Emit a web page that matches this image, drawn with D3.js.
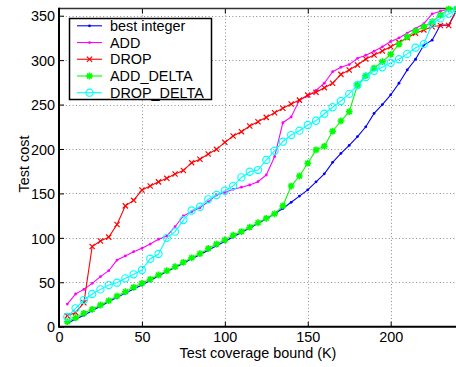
<!DOCTYPE html>
<html>
<head>
<meta charset="utf-8">
<script src="https://cdn.jsdelivr.net/npm/d3@7"></script>
<style>
	html, body { margin: 0; padding: 0; background: #fff; }
	svg { display: block; }
	text { font-family: "Liberation Sans", Arial, sans-serif; fill: #000; }
</style>
</head>
<body>
<svg id="chart"></svg>
<script>
'use strict';

// coverage bounds (K)
var bounds = [5, 10, 15, 20, 25, 30, 35, 40, 45, 50, 55, 60, 65, 70, 75, 80, 85, 90, 95, 100,
	105, 110, 115, 120, 125, 130, 135, 140, 145, 150, 155, 160, 165, 170, 175, 180, 185, 190, 195, 200,
	205, 210, 215, 220, 225, 230, 235, 240];

var bestInteger = [4, 8.5, 13, 18, 23, 28, 33, 37.5, 42.5, 47, 52, 57, 62, 66.5, 71.5, 76.5, 81, 86, 91, 96,
	101, 106, 111, 116, 121.5, 127, 133, 140, 147, 154, 163, 172, 185, 195, 204, 214, 225, 240, 250, 261,
	274, 289, 301, 317, 322.5, 339.5, 339.5, 357];

var addCost = [25.5, 36.8, 42, 48.8, 56.3, 63, 75, 79.6, 84.4, 88.2, 93, 98.4, 102, 112.5, 124.6, 129.5, 134, 140.5, 148.2, 151,
	154.6, 157, 159.5, 163.2, 170.7, 191.3, 229.6, 236, 255, 259.5, 266, 274, 287, 292, 295, 302, 305.5, 310, 315, 321,
	325, 330.5, 335.5, 341, 352, 355, 357.5, 358];

var dropCost = [12.2, 16, 27, 90.3, 96.4, 100.8, 115, 136, 142.2, 153.8, 158.3, 163, 167, 171.8, 175.8, 184.6, 188.4, 194.4, 199.6, 207.5,
	214.6, 219.5, 225.9, 230.7, 235.6, 240.8, 245.8, 250.6, 255, 260.7, 263.8, 269, 274, 284, 288.9, 294.5, 301.3, 305.8, 310.3, 315.1,
	320, 325.3, 330.2, 334, 337.6, 339, 339, 357];

var addDeltaCost = [5.6, 10.1, 15.1, 19.6, 24.4, 29.3, 34.5, 39.4, 44.3, 48.8, 53.3, 58.2, 63, 67.5, 72.5, 77.5, 82.2, 88, 93, 97.6,
	103, 107, 112, 117, 122, 127, 136, 158.3, 169.6, 184, 199, 203, 220, 231.5, 242, 272, 282.5, 291, 298.3, 306.5,
	318, 326.3, 332.7, 337.6, 343.2, 350.7, 357.5, 358];

var dropDeltaCost = [11, 20.7, 30, 36.8, 42, 46.9, 49.5, 54.4, 59, 63.8, 76.5, 81.8, 100, 107, 120, 130.8, 135, 143.4, 148.2, 153,
	158.3, 168, 174.4, 176.3, 187.6, 198, 208.2, 215.7, 220.6, 227, 231.8, 239.7, 247, 254, 262, 272, 281, 288, 292, 297,
	301, 307, 314, 318, 341, 347, 352, 357];

var seriesNames = ['best integer', 'ADD', 'DROP', 'ADD_DELTA', 'DROP_DELTA'];
var seriesValues = [bestInteger, addCost, dropCost, addDeltaCost, dropDeltaCost];

var xTicks = [0, 50, 100, 150, 200];
var yTicks = [0, 50, 100, 150, 200, 250, 300, 350];

var WIDTH = 456,
	HEIGHT = 367;

var plot = { left: 59, right: 457, top: 8.6, bottom: 326.7 };

var colors = ['#0000ff', '#ff00ff', '#ff0000', '#00ff00', '#00ffff'];
var markers = ['dot', 'dot', 'x', 'star', 'circle'];

var svg = d3.select('#chart')
	.attr('width', WIDTH)
	.attr('height', HEIGHT);

svg.append('rect')
	.attr('width', WIDTH)
	.attr('height', HEIGHT)
	.style('fill', '#fff');

var x = d3.scaleLinear()
	.domain([0, 240])
	.range([plot.left, plot.right]);

var y = d3.scaleLinear()
	.domain([0, 358])
	.range([plot.bottom, plot.top]);

// dotted grid
var grid = svg.append('g').attr('class', 'grid');

grid.selectAll('.gx')
	.data(xTicks.slice(1))
	.enter()
	.append('line')
	.attr('x1', function (d) { return Math.round(x(d)) + 0.5; })
	.attr('x2', function (d) { return Math.round(x(d)) + 0.5; })
	.attr('y1', plot.top)
	.attr('y2', plot.bottom)
	.style('stroke', '#8a8a8a')
	.style('stroke-dasharray', '1,2.4');

grid.selectAll('.gy')
	.data(yTicks.slice(1))
	.enter()
	.append('line')
	.attr('y1', function (d) { return Math.round(y(d)) + 0.5; })
	.attr('y2', function (d) { return Math.round(y(d)) + 0.5; })
	.attr('x1', plot.left)
	.attr('x2', plot.right)
	.style('stroke', '#8a8a8a')
	.style('stroke-dasharray', '1,2.4');

// axes: left + bottom with inward ticks, plus the box
var axisBottom = d3.axisBottom(x)
	.tickValues(xTicks)
	.tickSizeInner(-5)
	.tickSizeOuter(0)
	.tickPadding(5);

var axisLeft = d3.axisLeft(y)
	.tickValues(yTicks)
	.tickSizeInner(-5)
	.tickSizeOuter(0)
	.tickPadding(4);

var axisTop = d3.axisTop(x)
	.tickValues(xTicks)
	.tickSizeInner(-5)
	.tickSizeOuter(0)
	.tickFormat('');

var gb = svg.append('g')
	.attr('transform', 'translate(0,' + plot.bottom + ')')
	.call(axisBottom);

var gl = svg.append('g')
	.attr('transform', 'translate(' + plot.left + ',0)')
	.call(axisLeft);

var gt = svg.append('g')
	.attr('transform', 'translate(0,' + plot.top + ')')
	.call(axisTop);

[gb, gl, gt].forEach(function (g) {
	g.select('.domain').remove();
	g.selectAll('.tick line').style('stroke', '#000').style('stroke-width', 1);
	g.selectAll('.tick text')
		.style('font-family', '"Liberation Sans", Arial, sans-serif')
		.style('font-size', '14.4px')
		.style('fill', '#000');
});

gl.selectAll('.tick text').attr('dy', '0.36em');

svg.append('line')
	.attr('x1', plot.left).attr('x2', plot.right)
	.attr('y1', plot.top).attr('y2', plot.top)
	.style('stroke', '#333')
	.style('stroke-width', 1.5);

svg.append('line')
	.attr('x1', plot.left).attr('x2', plot.right)
	.attr('y1', plot.bottom).attr('y2', plot.bottom)
	.style('stroke', '#000')
	.style('stroke-width', 2);

svg.append('line')
	.attr('x1', plot.left).attr('x2', plot.left)
	.attr('y1', plot.top - 0.75).attr('y2', plot.bottom + 1)
	.style('stroke', '#000')
	.style('stroke-width', 2);

// axis titles
svg.append('text')
	.attr('x', (plot.left + plot.right) / 2)
	.attr('y', 358)
	.style('font-size', '14.4px')
	.style('text-anchor', 'middle')
	.text('Test coverage bound (K)');

svg.append('text')
	.attr('transform', 'translate(29,164) rotate(-90)')
	.style('font-size', '14.4px')
	.style('text-anchor', 'middle')
	.text('Test cost');

// helper to draw a marker symbol at (cx, cy)
function drawMarker(g, type, cx, cy, color) {
	if (type === 'dot') {
		g.append('circle')
			.attr('cx', cx).attr('cy', cy).attr('r', 1.4)
			.style('fill', color);
	} else if (type === 'x') {
		var s = 2.6;
		g.append('path')
			.attr('d', 'M' + (cx - s) + ',' + (cy - s) + 'L' + (cx + s) + ',' + (cy + s) +
				'M' + (cx - s) + ',' + (cy + s) + 'L' + (cx + s) + ',' + (cy - s))
			.style('stroke', color)
			.style('stroke-width', 1.2)
			.style('fill', 'none');
	} else if (type === 'star') {
		var r = 3.4, d = r * 0.72;
		g.append('path')
			.attr('d', 'M' + (cx - r) + ',' + cy + 'L' + (cx + r) + ',' + cy +
				'M' + cx + ',' + (cy - r) + 'L' + cx + ',' + (cy + r) +
				'M' + (cx - d) + ',' + (cy - d) + 'L' + (cx + d) + ',' + (cy + d) +
				'M' + (cx - d) + ',' + (cy + d) + 'L' + (cx + d) + ',' + (cy - d))
			.style('stroke', color)
			.style('stroke-width', 1.6)
			.style('fill', 'none');
		g.append('circle')
			.attr('cx', cx).attr('cy', cy).attr('r', 2)
			.style('fill', color);
	} else if (type === 'circle') {
		g.append('circle')
			.attr('cx', cx).attr('cy', cy).attr('r', 3.6)
			.style('fill', 'none')
			.style('stroke', color)
			.style('stroke-width', 1.1);
	}
}

var line = d3.line()
	.x(function (d) { return x(d[0]); })
	.y(function (d) { return y(d[1]); });

seriesValues.forEach(function (vals, i) {
	var pts = bounds.map(function (b, j) { return [b, vals[j]]; });
	var g = svg.append('g').attr('class', 'series-' + i);

	g.append('path')
		.datum(pts)
		.attr('d', line)
		.style('fill', 'none')
		.style('stroke', colors[i])
		.style('stroke-width', 1.1);

	pts.forEach(function (p) {
		drawMarker(g, markers[i], x(p[0]), y(p[1]), colors[i]);
	});
});

// legend
var legend = svg.append('g').attr('class', 'legend');

legend.append('rect')
	.attr('x', 69.5)
	.attr('y', 18.5)
	.attr('width', 142)
	.attr('height', 81)
	.style('fill', '#fff')
	.style('stroke', '#000')
	.style('stroke-width', 1.5);

var rowY = d3.scaleLinear()
	.domain([0, 4])
	.range([25.8, 92.7]);

seriesNames.forEach(function (name, i) {
	var cy = rowY(i);
	legend.append('line')
		.attr('x1', 77).attr('x2', 102)
		.attr('y1', cy).attr('y2', cy)
		.style('stroke', colors[i])
		.style('stroke-width', 1.1);
	drawMarker(legend, markers[i], 89.5, cy, colors[i]);
	legend.append('text')
		.attr('x', 110)
		.attr('y', cy + 5.2)
		.style('font-size', '14.4px')
		.text(name);
});
</script>
</body>
</html>
